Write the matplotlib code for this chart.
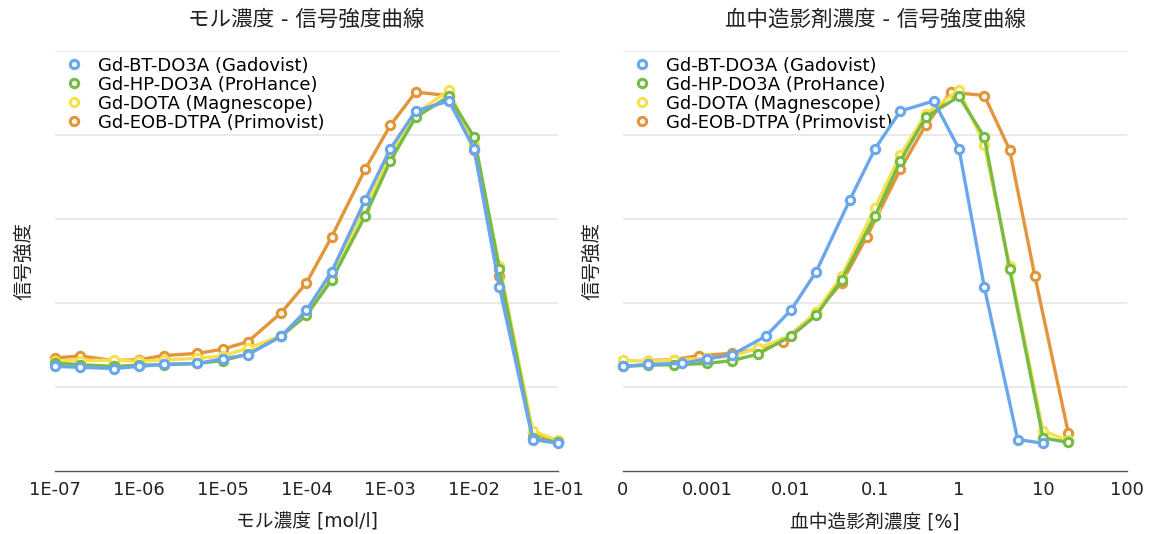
import matplotlib
matplotlib.use("Agg")
import matplotlib.pyplot as plt
from matplotlib.ticker import FixedLocator, NullLocator

plt.rcParams['font.family'] = ['DejaVu Sans', 'Noto Sans CJK JP']

# モル濃度 [mol/l]
mol = [1e-7, 2e-7, 5e-7, 1e-6, 2e-6, 5e-6, 1e-5, 2e-5, 5e-5, 1e-4,
       2e-4, 5e-4, 1e-3, 2e-3, 5e-3, 1e-2, 2e-2, 5e-2, 1e-1]

# 信号強度 (目盛りなし, 0-100)
gadovist = [24.9, 24.7, 24.4, 24.9, 25.4, 25.6, 26.7, 27.7, 32.1, 38.3,
            47.5, 64.5, 76.7, 85.7, 88.1, 76.7, 43.8, 7.5, 6.6]
prohance = [25.7, 25.3, 24.9, 25.2, 25.3, 25.6, 26.3, 27.8, 32.1, 37.1,
            45.5, 60.7, 73.8, 84.2, 89.2, 79.5, 48.1, 7.9, 6.8]
magnescope = [26.3, 26.3, 26.4, 26.1, 26.5, 26.8, 27.4, 29.2, 32.2, 37.9,
              46.4, 62.7, 75.2, 85.0, 90.7, 77.7, 48.9, 9.5, 7.3]
primovist = [26.9, 27.4, 26.3, 26.5, 27.5, 28.0, 29.0, 30.8, 37.7, 44.8,
             55.8, 71.8, 82.3, 90.2, 89.4, 76.5, 46.4, 9.1, 7.1]

# 血中造影剤濃度 [%]
gadovist_pct = [1e-4, 2e-4, 5e-4, 1e-3, 2e-3, 5e-3, 0.01, 0.02, 0.05, 0.1,
                0.2, 0.5, 1, 2, 5, 10]
prohance_pct = [1e-4, 2e-4, 4e-4, 1e-3, 2e-3, 4e-3, 0.01, 0.02, 0.04, 0.1,
                0.2, 0.4, 1, 2, 4, 10, 20]
magnescope_pct = [1e-4, 2e-4, 4e-4, 1e-3, 2e-3, 4e-3, 0.01, 0.02, 0.04, 0.1,
                  0.2, 0.4, 1, 2, 4, 10, 20]
primovist_pct = [2e-4, 4e-4, 8e-4, 2e-3, 4e-3, 8e-3, 0.02, 0.04, 0.08,
                 0.2, 0.4, 0.8, 2, 4, 8, 20]

names = ['Gd-BT-DO3A (Gadovist)', 'Gd-HP-DO3A (ProHance)',
         'Gd-DOTA (Magnescope)', 'Gd-EOB-DTPA (Primovist)']
colors = ['#6aa6ee', '#77bb47', '#f6e14c', '#e3953b']

left_ticks = [1e-7, 1e-6, 1e-5, 1e-4, 1e-3, 1e-2, 1e-1]
left_labels = ['1E-07', '1E-06', '1E-05', '1E-04', '1E-03', '1E-02', '1E-01']
right_ticks = [1e-4, 1e-3, 1e-2, 1e-1, 1, 10, 100]
right_labels = ['0', '0.001', '0.01', '0.1', '1', '10', '100']

fig = plt.figure(figsize=(11.54, 5.34), dpi=100)
ax1 = fig.add_axes([55 / 1154, 63 / 534, 503 / 1154, 420 / 534])
ax2 = fig.add_axes([623 / 1154, 63 / 534, 504 / 1154, 420 / 534])

sets1 = [(mol, gadovist), (mol, prohance), (mol, magnescope), (mol, primovist)]
sets2 = [(gadovist_pct, gadovist[3:]), (prohance_pct, prohance[2:]),
         (magnescope_pct, magnescope[2:]), (primovist_pct, primovist[2:18])]

txt = '#222222'


def draw(ax, sets, ticks, labels, title, xlabel):
    handles = [None] * 4
    for i in [3, 2, 1, 0]:
        x, y = sets[i]
        h, = ax.plot(x, y, color=colors[i], lw=2.4, marker='o', ms=6,
                     mfc='white', mec=colors[i], mew=2.2, clip_on=False,
                     label=names[i], zorder=3 + (3 - i))
        handles[i] = h
    ax.set_xscale('log')
    ax.set_xlim(ticks[0], ticks[-1])
    ax.set_ylim(0, 100)
    ax.xaxis.set_major_locator(FixedLocator(ticks))
    ax.xaxis.set_minor_locator(NullLocator())
    ax.set_xticklabels(labels)
    ax.set_yticks([20, 40, 60, 80, 100])
    ax.set_yticklabels([])
    ax.tick_params(axis='y', length=0)
    ax.tick_params(axis='x', length=0, labelsize=13, pad=7, colors=txt)
    ax.grid(axis='y', color='#e6e6e6', lw=1.2)
    ax.set_axisbelow(True)
    for s in ['top', 'right', 'left']:
        ax.spines[s].set_visible(False)
    ax.spines['bottom'].set_color('#555555')
    ax.spines['bottom'].set_linewidth(1.0)
    ax.set_title(title, fontsize=15.5, pad=18, color=txt)
    ax.set_xlabel(xlabel, fontsize=13.5, labelpad=10, color=txt)
    ax.set_ylabel('信号強度', fontsize=14, labelpad=12, color=txt)
    leg = ax.legend(handles=handles, loc='upper left', frameon=False,
                    fontsize=13, handlelength=0.9, handletextpad=0.9,
                    labelspacing=0.05, borderaxespad=0.2,
                    bbox_to_anchor=(0.0, 1.012))
    for h in leg.get_lines():
        h.set_linestyle('')


draw(ax1, sets1, left_ticks, left_labels, 'モル濃度 - 信号強度曲線', 'モル濃度 [mol/l]')
draw(ax2, sets2, right_ticks, right_labels, '血中造影剤濃度 - 信号強度曲線', '血中造影剤濃度 [%]')

fig.savefig('out.png', dpi=100)
